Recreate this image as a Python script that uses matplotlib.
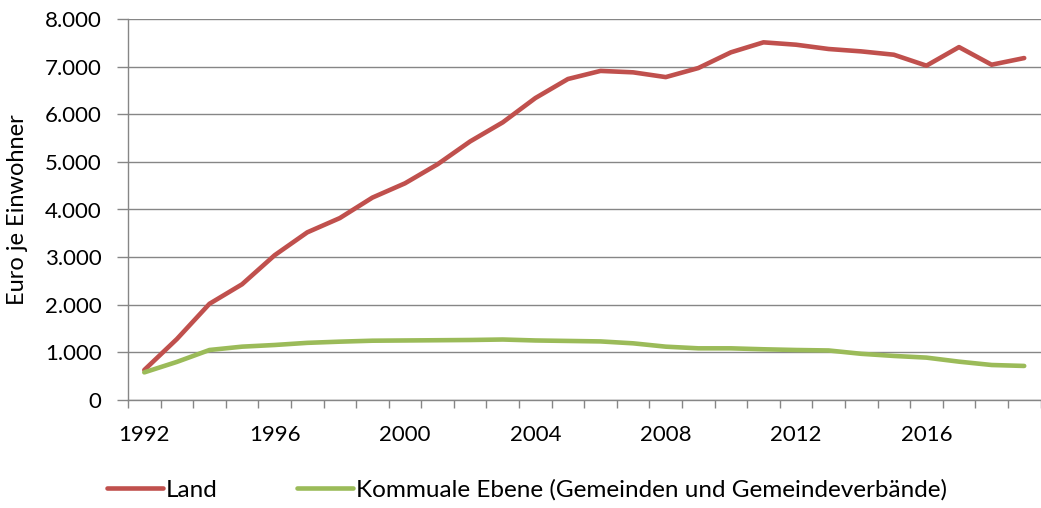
import numpy as np
import matplotlib
matplotlib.use("Agg")
import matplotlib.pyplot as plt
from matplotlib.ticker import FuncFormatter

plt.rcParams['font.family'] = ['Lato', 'DejaVu Sans']

# Daten
jahre = list(range(1992, 2020))
land = [630, 1280, 2020, 2430, 3040, 3520, 3820, 4250, 4550, 4950,
        5430, 5830, 6340, 6740, 6910, 6880, 6780, 6970, 7300, 7510,
        7460, 7370, 7320, 7250, 7020, 7410, 7040, 7180]
kommunal = [580, 800, 1050, 1120, 1155, 1200, 1225, 1245, 1250, 1255,
            1260, 1270, 1250, 1240, 1230, 1190, 1120, 1085, 1085, 1065,
            1050, 1040, 970, 925, 890, 805, 735, 715]
yticks = [0, 1000, 2000, 3000, 4000, 5000, 6000, 7000, 8000]

farbe_land = "#C0504D"
farbe_komm = "#9BBB59"
grau = "#868686"

fig = plt.figure(figsize=(10.41, 5.08), dpi=100)
ax = fig.add_axes([128/1041, 108/508, 1 - 128/1041 - 0.5/1041, 381/508])

x = np.arange(len(jahre))
ax.plot(x, land, color=farbe_land, lw=3.3, label="Land", solid_capstyle="round")
ax.plot(x, kommunal, color=farbe_komm, lw=3.3,
        label="Kommuale Ebene (Gemeinden und Gemeindeverbände)", solid_capstyle="round")

ax.set_xlim(-0.5, len(jahre) - 0.5)
ax.set_ylim(0, 8000)
ax.set_yticks(yticks)
ax.yaxis.set_major_formatter(FuncFormatter(lambda v, p: f"{int(v):,}".replace(",", ".")))
ax.grid(axis="y", color=grau, lw=1.0)
ax.set_axisbelow(True)

# Kategorie-Grenzen als Ticks, Beschriftung jedes 4. Jahr
ax.set_xticks(np.arange(len(jahre) + 1) - 0.5)
ax.set_xticklabels([])
ax.set_xticks(x[::4], minor=True)
ax.set_xticklabels([str(j) for j in jahre[::4]], minor=True)
ax.tick_params(axis="x", which="major", length=6, color=grau, width=1)
ax.tick_params(axis="x", which="minor", length=0, labelsize=16, pad=18)
ax.tick_params(axis="y", length=8, color=grau, width=1, labelsize=16, pad=11)

for s in ["top", "right"]:
    ax.spines[s].set_visible(False)
for s in ["left", "bottom"]:
    ax.spines[s].set_color(grau)
    ax.spines[s].set_linewidth(1.0)

ax.set_ylabel("Euro je Einwohner", fontsize=17, labelpad=12)

fig.legend(loc="center", bbox_to_anchor=(527/1041, 1 - 490/508), ncol=2,
           frameon=False, fontsize=17.5, handlelength=2.3, handletextpad=0.12,
           columnspacing=3.3)

fig.savefig("out.png", dpi=100)
